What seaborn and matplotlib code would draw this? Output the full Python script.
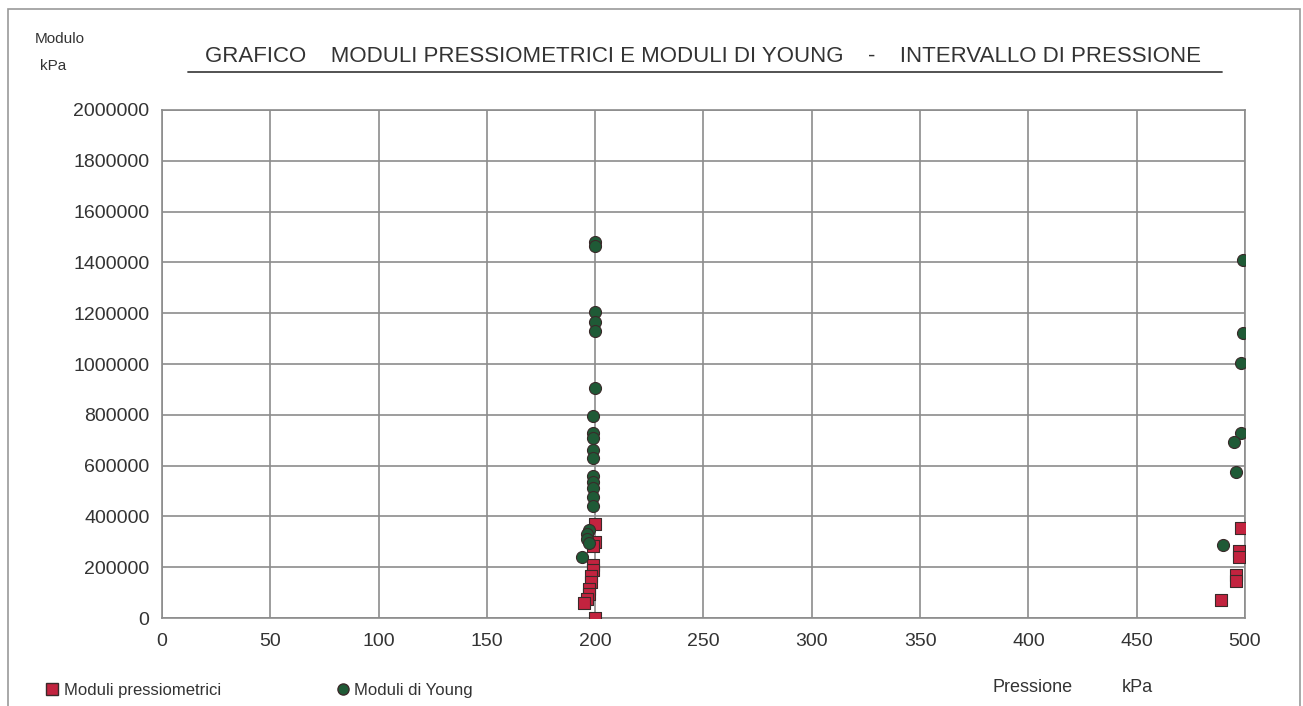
import pandas as pd
import seaborn as sns
import matplotlib.pyplot as plt
from matplotlib.lines import Line2D
from matplotlib.patches import Rectangle

# Moduli pressiometrici (kPa) vs pressione (kPa)
press_x = [200, 200, 199, 199, 199, 198, 198, 197, 197, 196, 195, 200,
           498, 497, 497, 496, 496, 489]
press_y = [370000, 300000, 285000, 210000, 190000, 165000, 140000, 115000, 95000, 75000, 60000, 0,
           355000, 262000, 240000, 170000, 145000, 70000]

# Moduli di Young (kPa) vs pressione (kPa)
young_x = [200, 200, 200, 200, 200, 200, 199, 199, 199, 199, 199, 199, 199, 199, 199, 199,
           197, 196, 196, 197, 194,
           499, 499, 498, 498, 495, 496, 490]
young_y = [1480000, 1465000, 1205000, 1165000, 1130000, 905000, 795000, 730000, 710000, 660000,
           630000, 560000, 535000, 510000, 475000, 440000, 345000, 330000, 310000, 295000, 240000,
           1410000, 1122000, 1004000, 728000, 693000, 575000, 287000]

x_ticks = list(range(0, 501, 50))
y_ticks = list(range(0, 2000001, 200000))

series = ['Moduli pressiometrici', 'Moduli di Young']

df = pd.concat([
    pd.DataFrame({'Pressione': press_x, 'Modulo': press_y, 'Serie': series[0]}),
    pd.DataFrame({'Pressione': young_x, 'Modulo': young_y, 'Serie': series[1]}),
])

sns.set_theme(style="white")
plt.rcParams['font.family'] = ['Liberation Sans', 'DejaVu Sans']

fig = plt.figure(figsize=(13.03, 7.06), dpi=100)
ax = fig.add_axes([0.1243, 0.1246, 0.8312, 0.7196])

palette = {series[0]: '#c2233f', series[1]: '#1f5a36'}
markers = {series[0]: 's', series[1]: 'o'}
sizes = {series[0]: 65, series[1]: 75}

for s in series:
    sub = df[df['Serie'] == s]
    sns.scatterplot(data=sub, x='Pressione', y='Modulo', color=palette[s],
                    marker=markers[s], s=sizes[s], edgecolor='#3a2a2a',
                    linewidth=0.8, ax=ax, zorder=3, legend=False)

ax.set_xlim(0, 500)
ax.set_ylim(0, 2000000)
ax.set_xticks(x_ticks)
ax.set_yticks(y_ticks)
ax.set_xticklabels([str(v) for v in x_ticks])
ax.set_yticklabels([str(v) for v in y_ticks])
ax.tick_params(axis='both', labelsize=14, colors='#333333', length=5,
               width=1, direction='out', pad=4)
ax.tick_params(axis='x', pad=6)
ax.grid(True, color='#8c8c8c', linewidth=1.2)
ax.set_axisbelow(True)
for sp in ax.spines.values():
    sp.set_color('#8c8c8c')
    sp.set_linewidth(1.2)
ax.set_xlabel('')
ax.set_ylabel('')

# title with underline
fig.text(0.5395, 0.905, 'GRAFICO    MODULI PRESSIOMETRICI E MODULI DI YOUNG    -    INTERVALLO DI PRESSIONE',
         ha='center', va='bottom', fontsize=16, color='#333333')
fig.add_artist(Line2D([0.144, 0.938], [0.898, 0.898], color='#444444', linewidth=1.3))

fig.text(0.046, 0.945, 'Modulo', ha='center', va='center', fontsize=11, color='#333333')
fig.text(0.041, 0.906, 'kPa', ha='center', va='center', fontsize=11, color='#333333')

fig.text(0.762, 0.026, 'Pressione', ha='left', va='center', fontsize=13, color='#333333')
fig.text(0.861, 0.026, 'kPa', ha='left', va='center', fontsize=13, color='#333333')

handles = [Line2D([], [], linestyle='none', marker=markers[s], color=palette[s],
                  markeredgecolor='#3a2a2a', markersize=8, label=s) for s in series]
fig.legend(handles=handles, loc='center left', bbox_to_anchor=(0.021, 0.022), ncol=2,
           frameon=False, fontsize=12, handletextpad=0.1, handlelength=1.2,
           columnspacing=6.7, labelcolor='#333333')

fig.add_artist(Rectangle((0.006, -0.01), 0.992, 0.997, transform=fig.transFigure,
                         fill=False, edgecolor='#999999', linewidth=1.2))

fig.savefig('out.png', dpi=100, facecolor='white')
